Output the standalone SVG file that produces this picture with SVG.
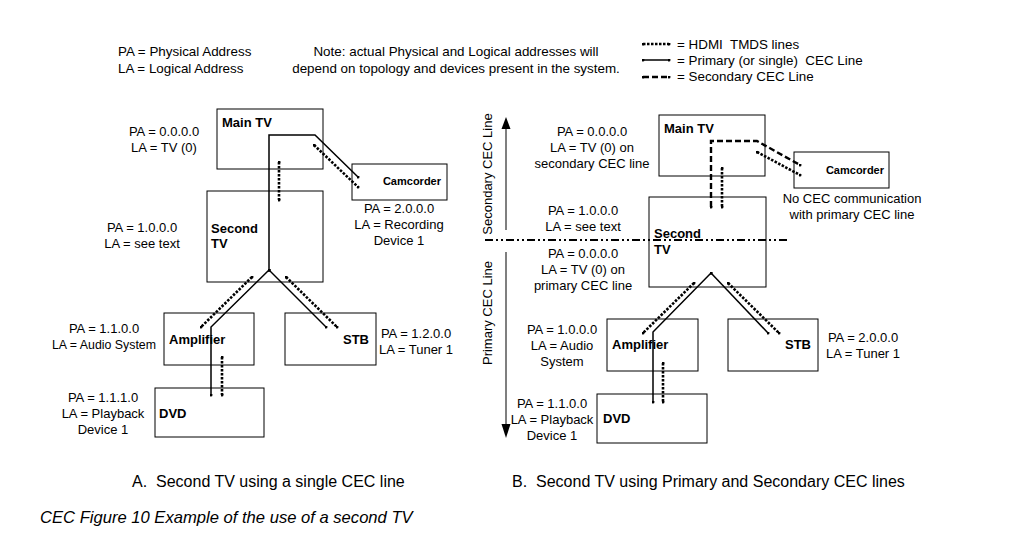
<svg xmlns="http://www.w3.org/2000/svg" width="1022" height="556" viewBox="0 0 1022 556">
<defs>
<style>
text{font-family:"Liberation Sans",Arial,sans-serif;font-size:13px;fill:#000}
.hd{font-size:13.4px}
.b{font-weight:bold}
.cam{font-weight:bold;font-size:11px}
.m{text-anchor:middle}
.e{text-anchor:end}
.cap{font-size:16px}
.it{font-size:16.6px;font-style:italic}
.box{fill:#fff;stroke:#000;stroke-width:1}
.cec{fill:none;stroke:#000;stroke-width:1.5;marker-start:url(#dot);marker-end:url(#dot)}
.tmds{fill:none;stroke:#000;stroke-width:2.6;stroke-dasharray:2.5 1.5;marker-start:url(#dot);marker-end:url(#dot)}
.sec{fill:none;stroke:#000;stroke-width:2.4;stroke-dasharray:6 3;marker-start:url(#dot);marker-end:url(#dot)}
.dd{fill:none;stroke:#000;stroke-width:2;stroke-dasharray:8 3 2 3 2 3}
.ax{stroke:#555;stroke-width:1.5}
</style>
<marker id="dot" viewBox="0 0 4 4" refX="2" refY="2" markerWidth="3" markerHeight="3" markerUnits="userSpaceOnUse"><circle cx="2" cy="2" r="2" fill="#000"/></marker>
</defs>
<rect width="1022" height="556" fill="#fff"/>

<g id="legend">
<text x="118" y="56" class="hd">PA = Physical Address</text>
<text x="118" y="73" class="hd">LA = Logical Address</text>
<text x="456" y="56" class="m hd">Note: actual Physical and Logical addresses will</text>
<text x="456" y="73" class="m hd">depend on topology and devices present in the system.</text>
<line x1="643" y1="44" x2="669" y2="44" class="tmds"/>
<line x1="643" y1="60" x2="669" y2="60" class="cec"/>
<line x1="643" y1="77" x2="669" y2="77" class="sec"/>
<text x="677" y="49" class="hd">= HDMI&#160; TMDS lines</text>
<text x="677" y="65" class="hd">= Primary (or single)&#160; CEC Line</text>
<text x="677" y="81" class="hd">= Secondary CEC Line</text>
</g>

<!-- Diagram A -->
<g id="a-maintv"><rect x="217" y="109" width="106" height="60" class="box"/><text x="222" y="127" class="b">Main TV</text>
<text x="164" y="136" class="m">PA = 0.0.0.0</text><text x="164" y="152" class="m">LA = TV (0)</text></g>
<g id="a-camcorder"><rect x="352" y="164" width="95" height="36" class="box"/><text x="441" y="185" class="cam e">Camcorder</text>
<text x="399" y="213" class="m">PA = 2.0.0.0</text><text x="399" y="229" class="m">LA = Recording</text><text x="399" y="245" class="m">Device 1</text></g>
<g id="a-secondtv"><rect x="207" y="191" width="116" height="91" class="box"/><text x="211" y="233" class="b">Second</text><text x="211" y="248" class="b">TV</text>
<text x="142" y="232" class="m">PA = 1.0.0.0</text><text x="142" y="248" class="m">LA = see text</text></g>
<g id="a-amplifier"><rect x="164" y="313" width="90" height="52" class="box"/><text x="169" y="344" class="b">Amplifier</text>
<text x="104" y="333" class="m">PA = 1.1.0.0</text><text x="104" y="349" class="m" textLength="104" lengthAdjust="spacingAndGlyphs">LA = Audio System</text></g>
<g id="a-stb"><rect x="285" y="313" width="91" height="52" class="box"/><text x="369" y="344" class="b e">STB</text>
<text x="416" y="338" class="m">PA = 1.2.0.0</text><text x="416" y="354" class="m">LA = Tuner 1</text></g>
<g id="a-dvd"><rect x="155" y="388" width="109" height="49" class="box"/><text x="159" y="418" class="b">DVD</text>
<text x="103" y="402" class="m">PA = 1.1.1.0</text><text x="103" y="418" class="m">LA = Playback</text><text x="103" y="434" class="m">Device 1</text></g>

<!-- Diagram B -->
<g id="b-maintv"><rect x="659" y="115" width="106" height="61" class="box"/><text x="664" y="133" class="b">Main TV</text>
<text x="592" y="136" class="m">PA = 0.0.0.0</text><text x="592" y="152" class="m">LA = TV (0) on</text><text x="592" y="168" class="m">secondary CEC line</text></g>
<g id="b-camcorder"><rect x="794" y="152" width="95" height="36" class="box"/><text x="884" y="174" class="cam e">Camcorder</text>
<text x="852" y="203" class="m">No CEC communication</text><text x="852" y="219" class="m">with primary CEC line</text></g>
<g id="b-secondtv"><rect x="649" y="197" width="117" height="90" class="box"/><text x="654" y="238" class="b">Second</text><text x="654" y="254" class="b">TV</text>
<text x="583" y="215" class="m">PA = 1.0.0.0</text><text x="583" y="231" class="m">LA = see text</text>
<text x="583" y="258" class="m">PA = 0.0.0.0</text><text x="583" y="274" class="m">LA = TV (0) on</text><text x="583" y="290" class="m">primary CEC line</text></g>
<g id="b-amplifier"><rect x="607" y="319" width="91" height="52" class="box"/><text x="612" y="349" class="b">Amplifier</text>
<text x="562" y="334" class="m">PA = 1.0.0.0</text><text x="562" y="350" class="m">LA = Audio</text><text x="562" y="366" class="m">System</text></g>
<g id="b-stb"><rect x="728" y="319" width="90" height="52" class="box"/><text x="811" y="349" class="b e">STB</text>
<text x="863" y="342" class="m">PA = 2.0.0.0</text><text x="863" y="358" class="m">LA = Tuner 1</text></g>
<g id="b-dvd"><rect x="597" y="394" width="110" height="49" class="box"/><text x="603" y="423" class="b">DVD</text>
<text x="552" y="408" class="m">PA = 1.1.0.0</text><text x="552" y="424" class="m">LA = Playback</text><text x="552" y="440" class="m">Device 1</text></g>

<g id="b-axis">
<line x1="506" y1="128" x2="506" y2="230" class="ax"/>
<polygon points="506,117 501.5,129 510.5,129" fill="#000"/>
<line x1="506" y1="252" x2="506" y2="424" class="ax"/>
<polygon points="506,438 501.5,424 510.5,424" fill="#000"/>
<text transform="translate(492,174) rotate(-90)" class="m">Secondary CEC Line</text>
<text transform="translate(492,313) rotate(-90)" class="m">Primary CEC Line</text>
<line x1="485" y1="240" x2="790" y2="240" class="dd"/>
</g>

<g id="connectors">
<!-- A -->
<polyline points="358,177 315,135 269,135 269,270" class="cec"/>
<polyline points="269,270 211,327 211,395" class="cec"/>
<line x1="269" y1="270" x2="326" y2="327" class="cec"/>
<line x1="279" y1="162" x2="279" y2="200" class="tmds"/>
<line x1="314" y1="145" x2="358" y2="187" class="tmds"/>
<line x1="252" y1="277" x2="201" y2="327" class="tmds"/>
<line x1="286" y1="277" x2="337" y2="327" class="tmds"/>
<line x1="222" y1="357" x2="222" y2="395" class="tmds"/>
<!-- B -->
<polyline points="711,207 711,141 757,141 800,165" class="sec"/>
<line x1="757" y1="152" x2="800" y2="175" class="tmds"/>
<line x1="722" y1="168" x2="722" y2="207" class="tmds"/>
<polyline points="711,273 653,332 653,402" class="cec"/>
<line x1="711" y1="273" x2="768" y2="333" class="cec"/>
<line x1="694" y1="283" x2="643" y2="333" class="tmds"/>
<line x1="728" y1="283" x2="779" y2="333" class="tmds"/>
<line x1="663" y1="363" x2="663" y2="402" class="tmds"/>
</g>

<g id="captions">
<text x="132" y="487" class="cap">A.&#160; Second TV using a single CEC line</text>
<text x="512" y="487" class="cap">B.&#160; Second TV using Primary and Secondary CEC lines</text>
<text x="40" y="523" class="it">CEC Figure 10 Example of the use of a second TV</text>
</g>
</svg>
